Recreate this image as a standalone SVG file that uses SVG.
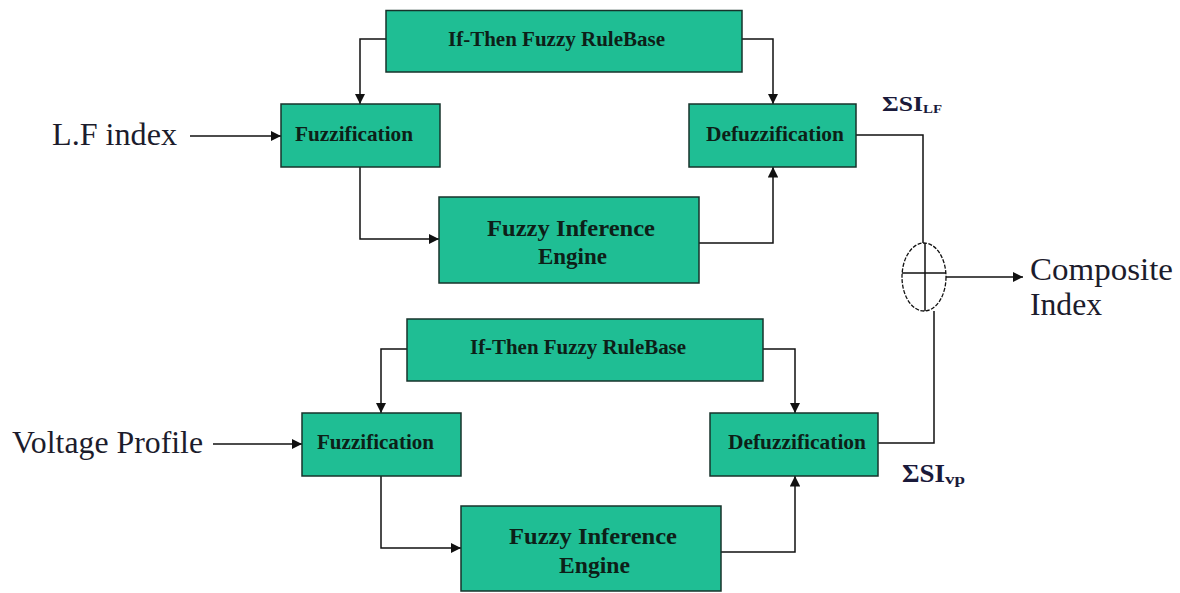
<svg xmlns="http://www.w3.org/2000/svg" width="1180" height="593" viewBox="0 0 1180 593">
<style>
.box{fill:#1fbe94;stroke:#17332b;stroke-width:1.5}
.bt{font-family:"Liberation Serif","Times New Roman",serif;font-weight:bold;fill:#0d1f18;font-size:21px}
.bt2{font-family:"Liberation Serif","Times New Roman",serif;font-weight:bold;fill:#0d1f18;font-size:24px}
.lt{font-family:"Liberation Serif","Times New Roman",serif;fill:#1c1c2c;font-size:32px}
.st{font-family:"Liberation Serif","Times New Roman",serif;font-weight:bold;fill:#1a1a3a}
.ln{fill:none;stroke:#111;stroke-width:1.5}
</style>
<defs>
<marker id="ah" viewBox="0 0 10 10" refX="10" refY="5" markerWidth="7" markerHeight="7" orient="auto" markerUnits="strokeWidth">
<path d="M0,0 L10,5 L0,10 z" fill="#111"/>
</marker>
</defs>
<rect width="1180" height="593" fill="#fff"/>

<g id="connectors">
<path class="ln" d="M190,136 H281" marker-end="url(#ah)"/>
<path class="ln" d="M386,39 H360 V104" marker-end="url(#ah)"/>
<path class="ln" d="M742,39 H773 V104" marker-end="url(#ah)"/>
<path class="ln" d="M360,167 V239 H439" marker-end="url(#ah)"/>
<path class="ln" d="M699,243 H773 V167" marker-end="url(#ah)"/>
<path class="ln" d="M856,135 H923 V243"/>

<path class="ln" d="M213,444 H302" marker-end="url(#ah)"/>
<path class="ln" d="M407,349 H381 V413" marker-end="url(#ah)"/>
<path class="ln" d="M763,349 H795 V413" marker-end="url(#ah)"/>
<path class="ln" d="M381,476 V548 H461" marker-end="url(#ah)"/>
<path class="ln" d="M721,552 H795 V476" marker-end="url(#ah)"/>
<path class="ln" d="M878,443 H934 V311"/>

<path class="ln" d="M946,277 H1023" marker-end="url(#ah)"/>
</g>

<g id="sum">
<ellipse cx="924" cy="277" rx="22" ry="34" fill="none" stroke="#111" stroke-width="1.3" stroke-dasharray="4 1.5"/>
<path class="ln" d="M925,243 V311 M902,273 H946" stroke-width="1.3"/>
</g>

<g id="rb1">
<rect class="box" x="386" y="10.5" width="356" height="61.5"/>
<text class="bt" x="448" y="46" textLength="217" lengthAdjust="spacingAndGlyphs">If-Then Fuzzy RuleBase</text>
</g>
<g id="fuzz1">
<rect class="box" x="281" y="104" width="159" height="63"/>
<text class="bt" x="295" y="141" textLength="118" lengthAdjust="spacingAndGlyphs">Fuzzification</text>
</g>
<g id="defuzz1">
<rect class="box" x="689" y="104" width="167" height="63"/>
<text class="bt" x="706" y="141" textLength="138" lengthAdjust="spacingAndGlyphs">Defuzzification</text>
</g>
<g id="fie1">
<rect class="box" x="439" y="197" width="260" height="86"/>
<text class="bt2" x="487" y="236" textLength="168" lengthAdjust="spacingAndGlyphs">Fuzzy Inference</text>
<text class="bt2" x="538" y="264" textLength="69" lengthAdjust="spacingAndGlyphs">Engine</text>
</g>

<g id="rb2">
<rect class="box" x="407" y="319" width="356" height="62"/>
<text class="bt" x="470" y="354" textLength="216" lengthAdjust="spacingAndGlyphs">If-Then Fuzzy RuleBase</text>
</g>
<g id="fuzz2">
<rect class="box" x="302" y="413" width="159" height="63"/>
<text class="bt" x="317" y="449" textLength="117" lengthAdjust="spacingAndGlyphs">Fuzzification</text>
</g>
<g id="defuzz2">
<rect class="box" x="710" y="413" width="168" height="63"/>
<text class="bt" x="728" y="449" textLength="138" lengthAdjust="spacingAndGlyphs">Defuzzification</text>
</g>
<g id="fie2">
<rect class="box" x="461" y="506" width="260" height="85"/>
<text class="bt2" x="509" y="544" textLength="168" lengthAdjust="spacingAndGlyphs">Fuzzy Inference</text>
<text class="bt2" x="559" y="573" textLength="71" lengthAdjust="spacingAndGlyphs">Engine</text>
</g>

<g id="labels">
<text class="lt" x="52" y="145" textLength="125" lengthAdjust="spacingAndGlyphs">L.F index</text>
<text class="lt" x="12" y="453" textLength="191" lengthAdjust="spacingAndGlyphs">Voltage Profile</text>
<text class="lt" x="1030" y="280" textLength="143" lengthAdjust="spacingAndGlyphs">Composite</text>
<text class="lt" x="1030" y="315" textLength="72" lengthAdjust="spacingAndGlyphs">Index</text>
<text class="st" x="882" y="111" font-size="20"><tspan textLength="41" lengthAdjust="spacingAndGlyphs">ΣSI</tspan><tspan font-size="12" dy="2" textLength="19" lengthAdjust="spacingAndGlyphs">LF</tspan></text>
<text class="st" x="902" y="482" font-size="25"><tspan textLength="43" lengthAdjust="spacingAndGlyphs">ΣSI</tspan><tspan font-size="15" dy="2" textLength="20" lengthAdjust="spacingAndGlyphs">vp</tspan></text>
</g>
</svg>
